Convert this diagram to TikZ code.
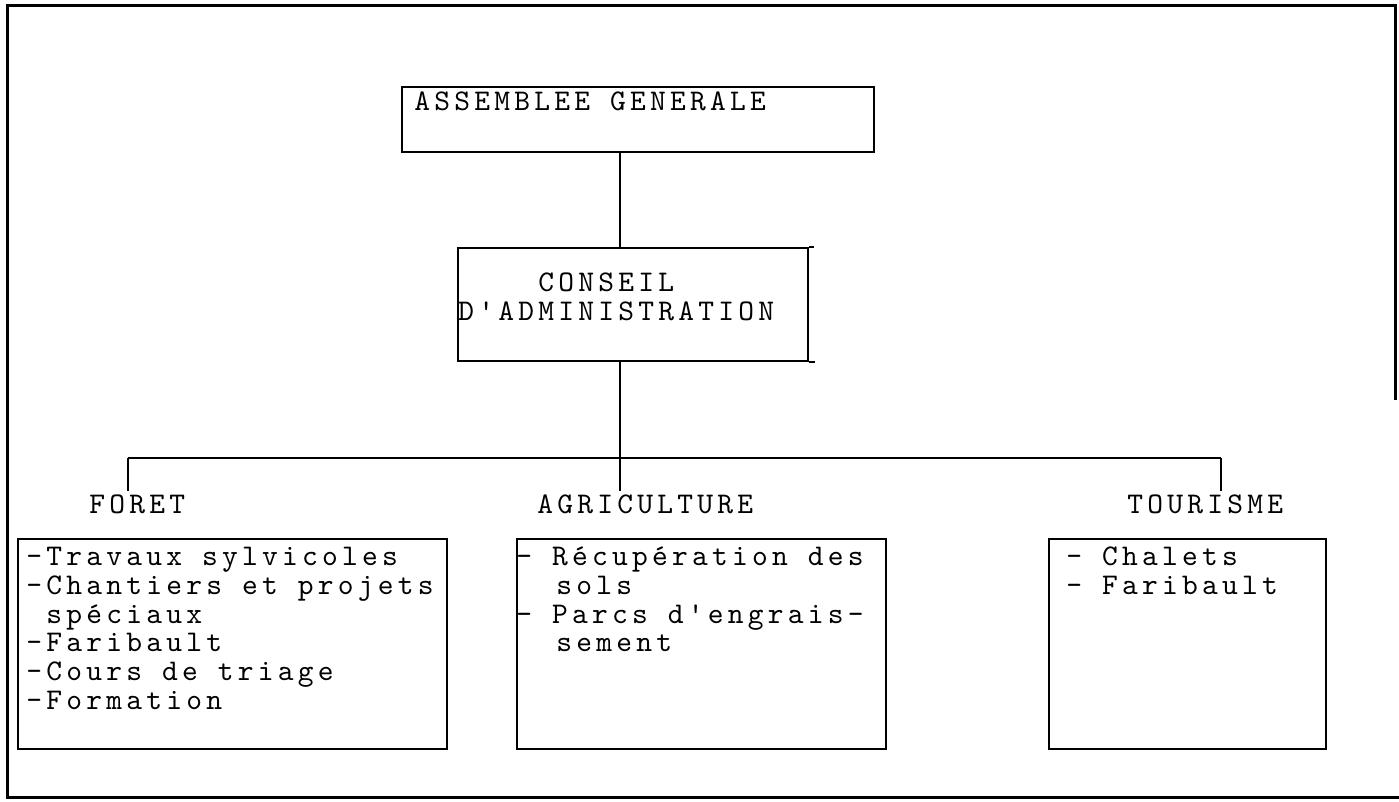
\documentclass[tikz,border=0pt]{standalone}
\usepackage{fontspec}
\newfontfamily\typefont{lmmono10-regular.otf}[LetterSpace=14.17]
\newlength\cellw
\setlength\cellw{10pt}
\newcommand\typew{\fontsize{15}{14.5}\selectfont\typefont}
\tikzset{
  frameline/.style={line width=1.5pt},
  bx/.style={draw, line width=1pt, rectangle, inner sep=0pt, anchor=north west},
  conn/.style={line width=0.8pt},
  busline/.style={line width=1.1pt},
  txt/.style={inner sep=0pt, anchor=base west, font=\typew, align=flush left, text width=250pt},
  lbl/.style={inner xsep=0pt, inner ysep=2pt, anchor=base west, font=\typew},
}
\begin{document}
\begin{tikzpicture}[x=0.5pt, y=-0.5pt]
\useasboundingbox (0,0) rectangle (1399,802);
% outer frame
\coordinate (fr1) at (1395,400);
\coordinate (fr2) at (1395,6);
\coordinate (fr3) at (7,6);
\coordinate (fr4) at (7,797);
\coordinate (fr5) at (1399,797);
\draw[frameline] (fr1) -- (fr2) -- (fr3) -- (fr4) -- (fr5);
% boxes
\node[bx, minimum width=236pt, minimum height=32.5pt] (asm) at (401,86) {};
\node[bx, minimum width=175pt, minimum height=56.5pt] (cons) at (457,247) {};
\node[bx, minimum width=214.5pt, minimum height=105pt] (fbox) at (17,538) {};
\node[bx, minimum width=184.5pt, minimum height=105pt] (abox) at (516,538) {};
\node[bx, minimum width=138.5pt, minimum height=105pt] (tbox) at (1048,538) {};
\draw[line width=1pt] (cons.north east) -- ++(5,0);
\draw[line width=1pt] (cons.south east) -- ++(6,0);
% texts
\node[lbl] (asmt) at (414,111) {ASSEMBLEE GENERALE};
\node[txt] (const) at (458,292) {\hspace*{4\cellw}CONSEIL\\D'ADMINISTRATION};
\node[lbl] (foret) at (89,514) {FORET};
\node[lbl] (agri) at (537,514) {AGRICULTURE};
\node[lbl] (tour) at (1127,514) {TOURISME};
\node[txt] (ftext) at (26,565) {-Travaux sylvicoles\\-Chantiers et projets\\\hspace*{\cellw}spéciaux\\-Faribault\\-Cours de triage\\-Formation};
\node[txt] (atext) at (516,565) {- Récupération des\\\hspace*{2\cellw}sols\\- Parcs d'engrais-\\\hspace*{2\cellw}sement};
\node[txt] (ttext) at (1066,565) {- Chalets\\- Faribault};
% connectors
\coordinate (spine) at (620,0);
\coordinate (bw) at (128,458);
\coordinate (be) at (1221,458);
\draw[conn] (asm.south -| spine) -- (cons.north -| spine);
\draw[conn] (cons.south -| spine) -- (agri.north -| spine);
\draw[busline] (bw) -- (be);
\draw[conn] (bw) -- (foret.north -| bw);
\draw[conn] (be) -- (tour.north -| be);
\end{tikzpicture}
\end{document}
